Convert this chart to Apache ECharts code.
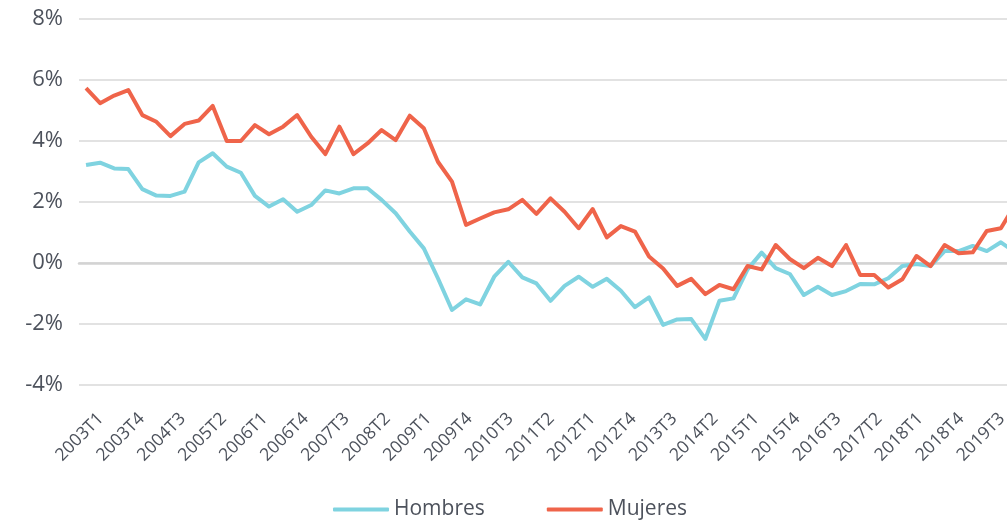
<!DOCTYPE html>
<html>

<head>
  <meta charset="utf-8" />
  <title>Hombres / Mujeres</title>
  <style>
    body {
      margin: 0;
      background-color: #ffffff;
    }
  </style>
  <script src="https://cdn.jsdelivr.net/npm/echarts@6/dist/echarts.min.js"></script>
</head>

<body>
  <div id="main" style="width: 1007px;height:526px;"></div>
  <script type="text/javascript">
    // trimestres 2003T1 .. 2019T3
    var quarters = [];
    for (var y = 2003; y <= 2019; y++) {
      for (var q = 1; q <= 4; q++) {
        if (y === 2019 && q > 3) break;
        quarters.push(y + 'T' + q);
      }
    }

    var hombres = [
      3.21, 3.29, 3.10, 3.08, 2.42, 2.21, 2.20, 2.34, 3.30, 3.60,
      3.16, 2.96, 2.20, 1.85, 2.09, 1.68, 1.90, 2.38, 2.28, 2.45,
      2.45, 2.07, 1.63, 1.03, 0.48, -0.50, -1.54, -1.19, -1.36, -0.45,
      0.04, -0.47, -0.67, -1.24, -0.75, -0.45, -0.78, -0.52, -0.91, -1.45,
      -1.13, -2.03, -1.85, -1.84, -2.49, -1.24, -1.16, -0.21, 0.34, -0.17,
      -0.36, -1.05, -0.78, -1.05, -0.92, -0.69, -0.70, -0.50, -0.10, -0.03,
      -0.10, 0.39, 0.39, 0.56, 0.39, 0.68, 0.35
    ];

    var mujeres = [
      5.73, 5.24, 5.49, 5.67, 4.85, 4.63, 4.16, 4.56, 4.67, 5.15,
      4.00, 4.00, 4.52, 4.22, 4.47, 4.85, 4.14, 3.57, 4.47, 3.57,
      3.92, 4.36, 4.03, 4.83, 4.42, 3.32, 2.67, 1.25, 1.46, 1.66,
      1.76, 2.07, 1.61, 2.12, 1.68, 1.14, 1.77, 0.84, 1.21, 1.03,
      0.21, -0.18, -0.75, -0.52, -1.02, -0.72, -0.86, -0.10, -0.21, 0.59,
      0.13, -0.17, 0.17, -0.10, 0.59, -0.39, -0.39, -0.80, -0.53, 0.23,
      -0.10, 0.59, 0.32, 0.35, 1.05, 1.14, 1.90
    ];

    var yTicks = { min: -4, max: 8, step: 2 };

    var textColor = '#4d525c';
    var font = '"Open Sans", "Noto Sans", sans-serif';

    var myChart = echarts.init(document.getElementById('main'));

    var option = {
      animation: false,
      // grid 0: las lineas, grid 1: solo las etiquetas del eje x
      grid: [
        { left: 79, top: 19, width: 943, height: 366, outerBoundsMode: 'none', containLabel: false },
        { left: 94, top: 19, width: 915, height: 366, outerBoundsMode: 'none', containLabel: false }
      ],
      legend: {
        left: 333,
        top: 499,
        padding: 0,
        itemWidth: 56,
        itemHeight: 4,
        itemGap: 62,
        icon: 'roundRect',
        textStyle: { color: textColor, fontSize: 21, fontFamily: font },
        data: ['Hombres', 'Mujeres']
      },
      xAxis: [{
        type: 'category',
        gridIndex: 0,
        data: quarters,
        boundaryGap: true,
        axisTick: { show: false },
        axisLabel: { show: false },
        axisLine: { show: true, onZero: true, lineStyle: { color: '#d3d3d3', width: 2.5 } },
        splitLine: { show: false }
      }, {
        type: 'category',
        gridIndex: 1,
        data: quarters,
        boundaryGap: true,
        axisTick: { show: false },
        axisLine: { show: false },
        axisLabel: {
          interval: 2,
          rotate: 45,
          margin: 31,
          color: textColor,
          fontSize: 17.5,
          fontFamily: font
        }
      }],
      yAxis: [{
        type: 'value',
        gridIndex: 0,
        min: yTicks.min,
        max: yTicks.max,
        interval: yTicks.step,
        axisLine: { show: false },
        axisTick: { show: false },
        axisLabel: {
          margin: 16,
          color: textColor,
          fontSize: 22,
          fontFamily: font,
          formatter: '{value}%'
        },
        splitLine: { lineStyle: { color: '#d9d9d9', width: 1.5 } }
      }, {
        type: 'value',
        gridIndex: 1,
        min: yTicks.min,
        max: yTicks.max,
        show: false
      }],
      series: [{
        name: 'Hombres',
        type: 'line',
        xAxisIndex: 0,
        yAxisIndex: 0,
        data: hombres,
        symbol: 'none',
        itemStyle: { color: '#7fd3e0' },
        lineStyle: { color: '#7fd3e0', width: 4, join: 'round' }
      }, {
        name: 'Mujeres',
        type: 'line',
        xAxisIndex: 0,
        yAxisIndex: 0,
        data: mujeres,
        symbol: 'none',
        itemStyle: { color: '#ef644a' },
        lineStyle: { color: '#ef644a', width: 4, join: 'round' }
      }]
    };
    myChart.setOption(option);
  </script>
</body>

</html>
